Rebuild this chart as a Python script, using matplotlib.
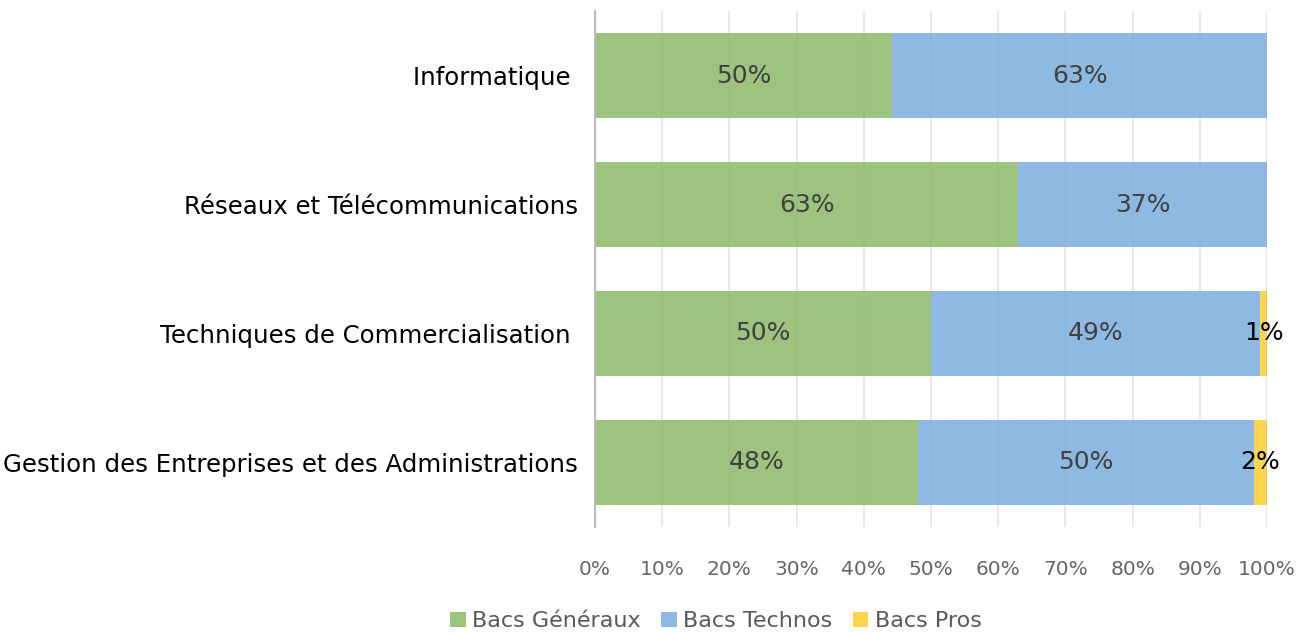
import numpy as np
import matplotlib.pyplot as plt

# raw values per diploma (chart is normalised to 100%)
categories = ["Informatique ", "Réseaux et Télécommunications",
              "Techniques de Commercialisation ",
              "Gestion des Entreprises et des Administrations"]
series_names = ["Bacs Généraux", "Bacs Technos", "Bacs Pros"]
generaux = [50, 63, 50, 48]
technos = [63, 37, 49, 50]
pros = [0, 0, 1, 2]
colors = ["#9cc47e", "#8db9e2", "#ffd44f"]
xticks = [0, 10, 20, 30, 40, 50, 60, 70, 80, 90, 100]

data = np.array([generaux, technos, pros], dtype=float)
totals = data.sum(axis=0)
shares = data / totals * 100

fig = plt.figure(figsize=(13.04, 6.34), dpi=100)
ax = fig.add_axes([0.4563, 0.1688, 0.5153, 0.8138])

y = np.arange(len(categories))
left = np.zeros(len(categories))
for k in range(3):
    ax.barh(y, shares[k], left=left, height=0.66, color=colors[k],
            label=series_names[k], zorder=1)
    for i in range(len(categories)):
        if data[k, i] > 0:
            cx = left[i] + shares[k, i] / 2
            col = "#404040" if k < 2 else "black"
            ax.text(cx, y[i], f"{int(data[k, i])}%", ha="center", va="center",
                    fontsize=18, color=col, zorder=3)
    left += shares[k]

ax.set_xlim(0, 100)
ax.set_ylim(len(categories) - 0.5, -0.5)
ax.set_yticks(y)
ax.set_yticklabels(categories, fontsize=17.6, color="black")
ax.set_xticks(xticks)
ax.set_xticklabels([f"{t}%" for t in xticks], fontsize=14.5, color="#666666")
ax.tick_params(axis="x", length=0, pad=24)
ax.tick_params(axis="y", length=0, pad=12)
ax.xaxis.grid(True, color="#a6a6a6", alpha=0.25, linewidth=1.5, zorder=2)
ax.set_axisbelow(False)
for s in ["top", "right", "bottom"]:
    ax.spines[s].set_visible(False)
ax.spines["left"].set_color("#bfbfbf")
ax.spines["left"].set_linewidth(1.5)

fig.legend(loc="center", bbox_to_anchor=(0.549, 0.02), ncol=3, frameon=False,
           fontsize=16, handlelength=0.7, handleheight=0.7, handletextpad=0.3,
           columnspacing=0.9, labelcolor="#595959")

fig.savefig("out.png", dpi=100)
